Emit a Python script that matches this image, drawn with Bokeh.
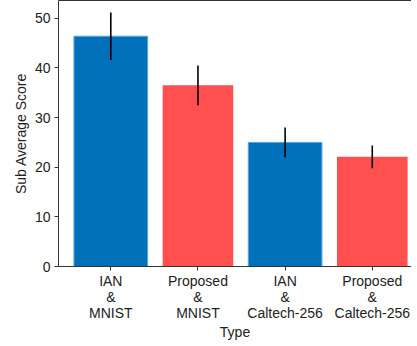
from bokeh.plotting import figure
from bokeh.models import FixedTicker, LinearAxis, Range1d
from bokeh.embed import file_html
from bokeh.resources import INLINE

categories = ["IAN\n&\nMNIST", "Proposed\n&\nMNIST", "IAN\n&\nCaltech-256", "Proposed\n&\nCaltech-256"]
scores = [46.4, 36.5, 25.0, 22.1]
errors = [4.8, 4.0, 3.0, 2.3]
colors = ["#0070BB", "#FF4F4F", "#0070BB", "#FF4F4F"]
y_ticks = [0, 10, 20, 30, 40, 50]

xs = list(range(len(categories)))
lower = [s - e for s, e in zip(scores, errors)]
upper = [s + e for s, e in zip(scores, errors)]

FONT = "Liberation Sans"
TXT = "#222222"
FS = "14px"

p = figure(frame_width=353, frame_height=266, output_backend="svg", toolbar_location=None,
           x_range=Range1d(-0.6, 3.45), y_range=Range1d(0, 53.6),
           min_border_left=58, min_border_right=0, min_border_top=0, min_border_bottom=0)
p.outline_line_color = None
p.grid.grid_line_color = None
p.background_fill_color = "white"

blue_idx = [i for i, c in enumerate(colors) if c == "#0070BB"]
red_idx = [i for i, c in enumerate(colors) if c != "#0070BB"]
p.vbar(x=[xs[i] for i in blue_idx], top=[scores[i] for i in blue_idx], width=0.845,
       fill_color="#0070BB", line_color="#5DA3DA", line_width=1)
p.vbar(x=[xs[i] for i in red_idx], top=[scores[i] for i in red_idx], width=0.81,
       fill_color="#FF4F4F", line_color=None)
p.segment(x0=xs, y0=lower, x1=xs, y1=upper, line_color="black", line_width=1.6)

p.xaxis.ticker = FixedTicker(ticks=xs)
p.xaxis.major_label_overrides = {i: c for i, c in zip(xs, categories)}
p.yaxis.ticker = FixedTicker(ticks=y_ticks)
p.xaxis.axis_label = "Type"
p.yaxis.axis_label = "Sub Average Score"

for ax in (p.xaxis[0], p.yaxis[0]):
    ax.axis_line_color = "#333333"
    ax.major_tick_line_color = "#333333"
    ax.major_tick_out = 4
    ax.major_tick_in = 0
    ax.minor_tick_line_color = None
    ax.major_label_text_font = FONT
    ax.major_label_text_font_size = FS
    ax.major_label_text_color = TXT
    ax.major_label_text_line_height = 1.0
    ax.axis_label_text_font = FONT
    ax.axis_label_text_font_size = FS
    ax.axis_label_text_font_style = "normal"
    ax.axis_label_text_color = TXT
p.xaxis.major_label_standoff = 2
p.xaxis.axis_label_standoff = 0
p.yaxis.major_label_standoff = 4
p.yaxis.axis_label_standoff = 3

top_axis = LinearAxis(axis_line_color="#333333", major_tick_line_color=None,
                      minor_tick_line_color=None, major_label_text_font_size="0px",
                      major_label_standoff=0, ticker=FixedTicker(ticks=[]))
p.add_layout(top_axis, "above")

open("out.html", "w").write(file_html(p, INLINE))
